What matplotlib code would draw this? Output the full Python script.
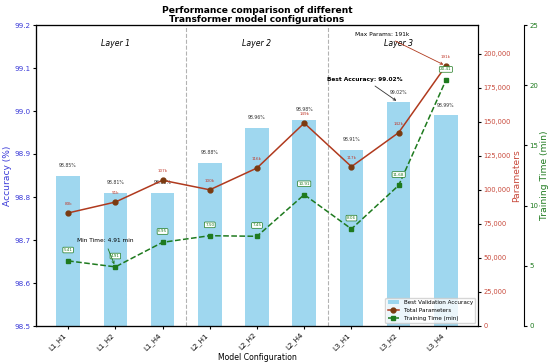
import matplotlib
matplotlib.use("Agg")
import matplotlib.pyplot as plt
import numpy as np
from matplotlib.ticker import FuncFormatter

configs = ["L1_H1", "L1_H2", "L1_H4", "L2_H1", "L2_H2", "L2_H4", "L3_H1", "L3_H2", "L3_H4"]
accuracy = [98.85, 98.81, 98.81, 98.88, 98.96, 98.98, 98.91, 99.02, 98.99]
params = [83000, 91000, 107000, 100000, 116000, 149000, 117000, 142000, 191000]
train_time = [5.41, 4.91, 6.95, 7.50, 7.45, 10.91, 8.06, 11.68, 20.41]
layer_names = ["Layer 1", "Layer 2", "Layer 3"]

x = np.arange(len(configs))
fig = plt.figure(figsize=(5.5, 3.64), dpi=100)
ax = fig.add_axes([36/550, 1-326/364, (478-36)/550, (326-25)/364])

bars = ax.bar(x, accuracy, width=0.5, color="#87CEEB", alpha=0.8, label="Best Validation Accuracy")
ax.set_ylim(98.5, 99.2)
ax.set_xlim(-0.68, 8.68)
ax.set_yticks([98.5, 98.6, 98.7, 98.8, 98.9, 99.0, 99.1, 99.2])
ax.tick_params(axis="y", labelcolor="#3a3ad8", labelsize=5.2, length=2.5, pad=1.5)
ax.set_ylabel("Accuracy (%)", color="#3a3ad8", fontsize=6.6, labelpad=2)
ax.set_xticks(x)
ax.set_xticklabels(configs, rotation=45, ha="right", fontsize=5.0)
ax.tick_params(axis="x", length=2.5, pad=1.5)
ax.set_xlabel("Model Configuration", fontsize=5.6, labelpad=1)
for xi, a in zip(x, accuracy):
    ax.text(xi, a + 0.018, f"{a:.2f}%", ha="center", va="bottom", fontsize=3.3, color="#333333")

for b in [2.5, 5.5]:
    ax.axvline(b, color="gray", linestyle="--", linewidth=0.8, alpha=0.6)
for i, name in enumerate(layer_names):
    ax.text(1 + 3 * i, 99.156, name, ha="center", va="center", fontsize=5.6, style="italic")

ax2 = ax.twinx()
pcol = "#b03a1e"
l2, = ax2.plot(x, params, color=pcol, marker="o", markersize=3.5, markerfacecolor="#7a3a10",
               markeredgecolor="#7a3a10", linewidth=1.1, label="Total Parameters")
ax2.set_ylim(0, 221000)
ax2.set_yticks([0, 25000, 50000, 75000, 100000, 125000, 150000, 175000, 200000])
ax2.yaxis.set_major_formatter(FuncFormatter(lambda v, p: f"{int(v):,}"))
ax2.tick_params(axis="y", labelcolor="#c8483a", labelsize=4.8, length=2.5, pad=1.5)
ax2.set_ylabel("Parameters", color="#c8483a", fontsize=6.6, labelpad=1)
for xi, p in zip(x, params):
    ax2.text(xi, p + 6500, f"{p//1000}k", ha="center", va="center", fontsize=3, color="#c0392b")

ax3 = ax.twinx()
ax3.spines["right"].set_position(("axes", 1.104))
gcol = "#1e7a1e"
l3, = ax3.plot(x, train_time, color=gcol, marker="s", markersize=3.5, linestyle="--",
               linewidth=1.1, label="Training Time (min)")
ax3.set_ylim(0, 25)
ax3.tick_params(axis="y", labelcolor=gcol, labelsize=5.0, length=2.5, pad=1.5)
ax3.set_ylabel("Training Time (min)", color=gcol, fontsize=6.6, labelpad=1)
for xi, t in zip(x, train_time):
    ax3.text(xi, t + 0.9, f"{t:.2f}", ha="center", va="center", fontsize=3, color=gcol,
             bbox=dict(boxstyle="round,pad=0.2", facecolor="white", edgecolor=gcol, linewidth=0.5))

imax = int(np.argmax(params))
ax2.annotate(f"Max Params: {params[imax]//1000}k", xy=(x[imax], params[imax]),
             xytext=(6.65, 214000), fontsize=4.2, ha="center", va="center",
             arrowprops=dict(arrowstyle="->", color=pcol, lw=0.6))
ibest = int(np.argmax(accuracy))
ax.annotate(f"Best Accuracy: {accuracy[ibest]:.2f}%", xy=(x[ibest], accuracy[ibest]),
            xytext=(6.29, 99.074), fontsize=4.2, fontweight="bold",
            ha="center", va="center", arrowprops=dict(arrowstyle="->", color="#333333", lw=0.6), zorder=10)
imin = int(np.argmin(train_time))
ax3.annotate(f"Min Time: {train_time[imin]:.2f} min", xy=(x[imin], train_time[imin]),
             xytext=(0.78, 7.06), fontsize=4.2, ha="center", va="center",
             arrowprops=dict(arrowstyle="->", color=gcol, lw=0.6))

ax.legend([bars, l2, l3], ["Best Validation Accuracy", "Total Parameters", "Training Time (min)"],
          loc="lower right", fontsize=4.1, framealpha=0.8, borderaxespad=0.5)

ax.set_title("Performance comparison of different\nTransformer model configurations",
             fontsize=6.6, fontweight="bold", pad=2, linespacing=1.05)
fig.savefig("out.png", dpi=100)
